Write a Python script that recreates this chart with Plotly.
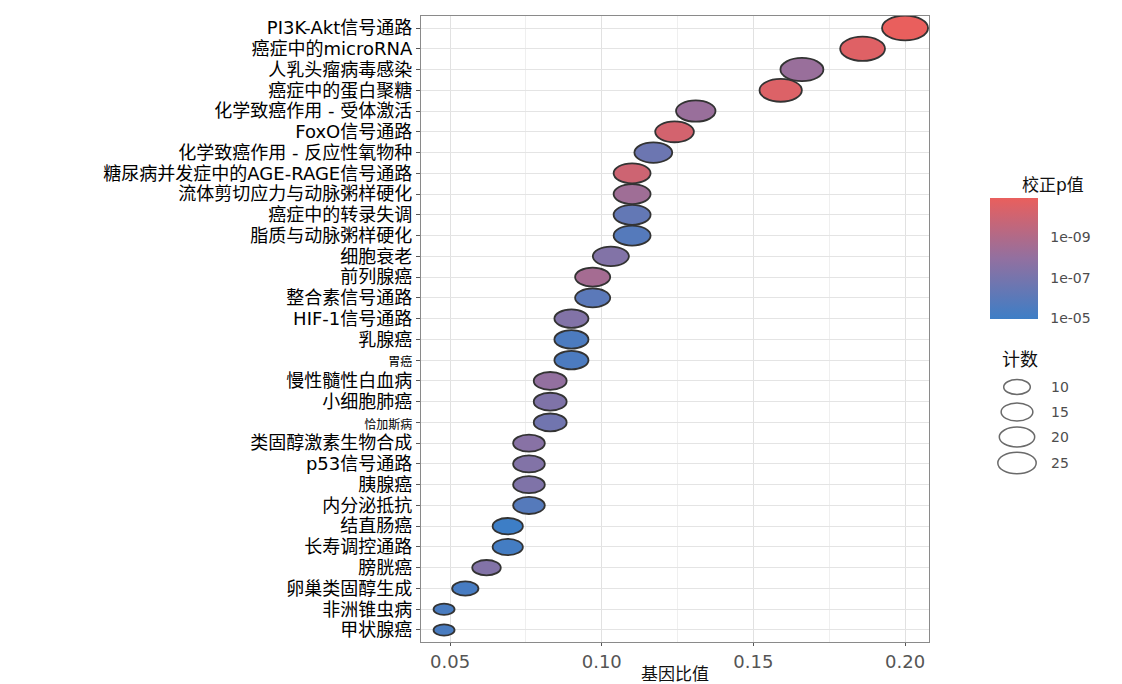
import math
import plotly.graph_objects as go

# ---------------- data ----------------
pathways = [
    "PI3K-Akt信号通路", "癌症中的microRNA", "人乳头瘤病毒感染", "癌症中的蛋白聚糖",
    "化学致癌作用 - 受体激活", "FoxO信号通路", "化学致癌作用 - 反应性氧物种",
    "糖尿病并发症中的AGE-RAGE信号通路", "流体剪切应力与动脉粥样硬化", "癌症中的转录失调",
    "脂质与动脉粥样硬化", "细胞衰老", "前列腺癌", "整合素信号通路", "HIF-1信号通路",
    "乳腺癌", "胃癌", "慢性髓性白血病", "小细胞肺癌", "恰加斯病", "类固醇激素生物合成",
    "p53信号通路", "胰腺癌", "内分泌抵抗", "结直肠癌", "长寿调控通路", "膀胱癌",
    "卵巢类固醇生成", "非洲锥虫病", "甲状腺癌",
]
gene_ratio = [0.200, 0.186, 0.166, 0.159, 0.131, 0.124, 0.117, 0.110, 0.110, 0.110,
              0.110, 0.103, 0.097, 0.097, 0.090, 0.090, 0.090, 0.083, 0.083, 0.083,
              0.076, 0.076, 0.076, 0.076, 0.069, 0.069, 0.062, 0.055, 0.048, 0.048]
counts = [29, 27, 24, 23, 19, 18, 17, 16, 16, 16, 16, 15, 14, 14, 13, 13, 13, 12, 12, 12,
          11, 11, 11, 11, 10, 10, 9, 8, 7, 7]
p_adjust = [1.1e-11, 2.5e-11, 6.3e-09, 3.2e-11, 6.3e-09, 6.3e-11, 2.5e-07, 1.0e-10,
            4.0e-09, 5.0e-07, 1.6e-06, 4.0e-08, 2.5e-09, 1.0e-06, 4.0e-08, 3.2e-06,
            3.2e-06, 1.0e-08, 5.0e-08, 1.6e-07, 2.5e-08, 4.0e-08, 5.0e-08, 1.6e-06,
            1.1e-05, 6.3e-06, 4.0e-08, 5.0e-06, 4.0e-06, 4.0e-06]
small_labels = ["胃癌", "恰加斯病"]
x_ticks = [0.05, 0.10, 0.15, 0.20]
x_ticktext = ["0.05", "0.10", "0.15", "0.20"]
p_ticks = [9, 7, 5]
p_ticktext = ["1e-09", "1e-07", "1e-05"]
size_legend = [10, 15, 20, 25]

# ---------------- styling helpers ----------------
W, H = 1122, 684
L, R, T, B = 421, 929, 16, 642
FONT = "DejaVu Sans, Noto Sans CJK SC"

neglog = [-math.log10(p) for p in p_adjust]
cmin, cmax = min(neglog), max(neglog)
stops = [(0.0, "#3D7EC6"), (0.5, "#9270A0"), (1.0, "#E95F5D")]


def hex2rgb(h):
    h = h.lstrip("#")
    return [int(h[i:i + 2], 16) for i in (0, 2, 4)]


def color_at(v):
    t = (v - cmin) / (cmax - cmin)
    t = max(0.0, min(1.0, t))
    for (t0, c0), (t1, c1) in zip(stops[:-1], stops[1:]):
        if t <= t1:
            f = (t - t0) / (t1 - t0)
            a, b = hex2rgb(c0), hex2rgb(c1)
            return "rgb(%d,%d,%d)" % tuple(round(a[i] + (b[i] - a[i]) * f) for i in range(3))
    return stops[-1][1]


nmin, nmax = min(counts), max(counts)


def dot_w(c):
    return 21 + 25 * math.sqrt(max(0.0, (c - nmin) / (nmax - nmin)))


def px(x):
    return (x - L) / (R - L)


def py(y):
    return (B - y) / (B - T)


ticktext = [
    ('<span style="font-size:12px">%s</span>' % p) if p in small_labels else p
    for p in pathways
]

fig = go.Figure()
fig.add_trace(go.Scatter(
    x=gene_ratio, y=pathways, mode="markers",
    marker=dict(
        size=8, opacity=0, color=neglog, colorscale=[[s, c] for s, c in stops],
        cmin=cmin, cmax=cmax, showscale=True,
        colorbar=dict(
            xref="container", yref="container", x=990 / W, xanchor="left",
            y=1 - 282.5 / H, yanchor="middle", len=121, lenmode="pixels",
            thickness=48, thicknessmode="pixels", outlinewidth=0, xpad=0, ypad=0,
            tickvals=p_ticks, ticktext=p_ticktext, ticks="outside", ticklen=10,
            tickcolor="rgba(0,0,0,0)",
            tickfont=dict(size=14, color="#4D4D4D", family="DejaVu Sans"),
        ),
    ),
    customdata=list(zip(counts, p_adjust)),
    hovertemplate="%{y}<br>基因比值=%{x}<br>计数=%{customdata[0]}<br>校正p值=%{customdata[1]:.1e}<extra></extra>",
    showlegend=False,
))

shapes = []
for name, r, c, v in reversed(list(zip(pathways, gene_ratio, counts, neglog))):
    w = dot_w(c)
    h = 0.54 * w
    shapes.append(dict(
        type="circle", xref="x", yref="y", xsizemode="pixel", ysizemode="pixel",
        xanchor=r, yanchor=name, x0=-w / 2, x1=w / 2, y0=-h / 2, y1=h / 2,
        fillcolor=color_at(v), line=dict(color="#333333", width=1.8), layer="above",
    ))

# size legend
annotations = []
leg_y = [387, 412, 437, 463]
for n, yy in zip(size_legend, leg_y):
    w = 0.88 * dot_w(n)
    h = 0.56 * w
    shapes.append(dict(
        type="circle", xref="paper", yref="paper", xsizemode="pixel", ysizemode="pixel",
        xanchor=px(1017), yanchor=py(yy), x0=-w / 2, x1=w / 2, y0=-h / 2, y1=h / 2,
        fillcolor="rgba(0,0,0,0)", line=dict(color="#6A6A6A", width=1.5),
    ))
    annotations.append(dict(
        x=px(1049), y=py(yy), xref="paper", yref="paper", text=str(n), showarrow=False,
        xanchor="left", yanchor="middle", font=dict(size=14, color="#4D4D4D", family="DejaVu Sans"),
    ))

annotations.append(dict(
    x=px(1053), y=py(185), xref="paper", yref="paper", text="校正p值", showarrow=False,
    xanchor="center", yanchor="middle", font=dict(size=17, color="#111111", family=FONT),
))
annotations.append(dict(
    x=px(1020), y=py(359), xref="paper", yref="paper", text="计数", showarrow=False,
    xanchor="center", yanchor="middle", font=dict(size=18, color="#111111", family=FONT),
))

fig.update_layout(
    width=W, height=H, autosize=False,
    margin=dict(l=L, r=W - R, t=T, b=H - B, pad=0),
    plot_bgcolor="white", paper_bgcolor="white",
    shapes=shapes, annotations=annotations, showlegend=False,
    font=dict(family=FONT, color="#111111"),
    xaxis=dict(
        range=[0.0404, 0.2079], tickvals=x_ticks, ticktext=x_ticktext,
        tickfont=dict(size=18, color="#555555", family="DejaVu Sans"),
        ticks="outside", ticklen=3, tickcolor="#555555", tickwidth=1,
        showgrid=True, gridcolor="#E1E1E1", gridwidth=1.3,
        minor=dict(tickvals=[0.075, 0.125, 0.175], showgrid=True, gridcolor="#EFEFEF", gridwidth=1),
        showline=True, mirror=True, linecolor="#8A8A8A", linewidth=1.3, zeroline=False,
        title=dict(text="基因比值", font=dict(size=17, color="#111111", family=FONT), standoff=0),
        automargin=False,
    ),
    yaxis=dict(
        type="category", categoryorder="array", categoryarray=pathways,
        range=[len(pathways) - 1 + 0.58, -0.58],
        tickvals=pathways, ticktext=ticktext,
        tickfont=dict(size=18, color="#000000", family=FONT),
        ticks="outside", ticklen=4, tickcolor="#555555", tickwidth=1,
        showgrid=True, gridcolor="#E4E4E4", gridwidth=1.1,
        showline=True, mirror=True, linecolor="#8A8A8A", linewidth=1.3, zeroline=False,
        automargin=False,
    ),
)

fig.write_html("out.html")
